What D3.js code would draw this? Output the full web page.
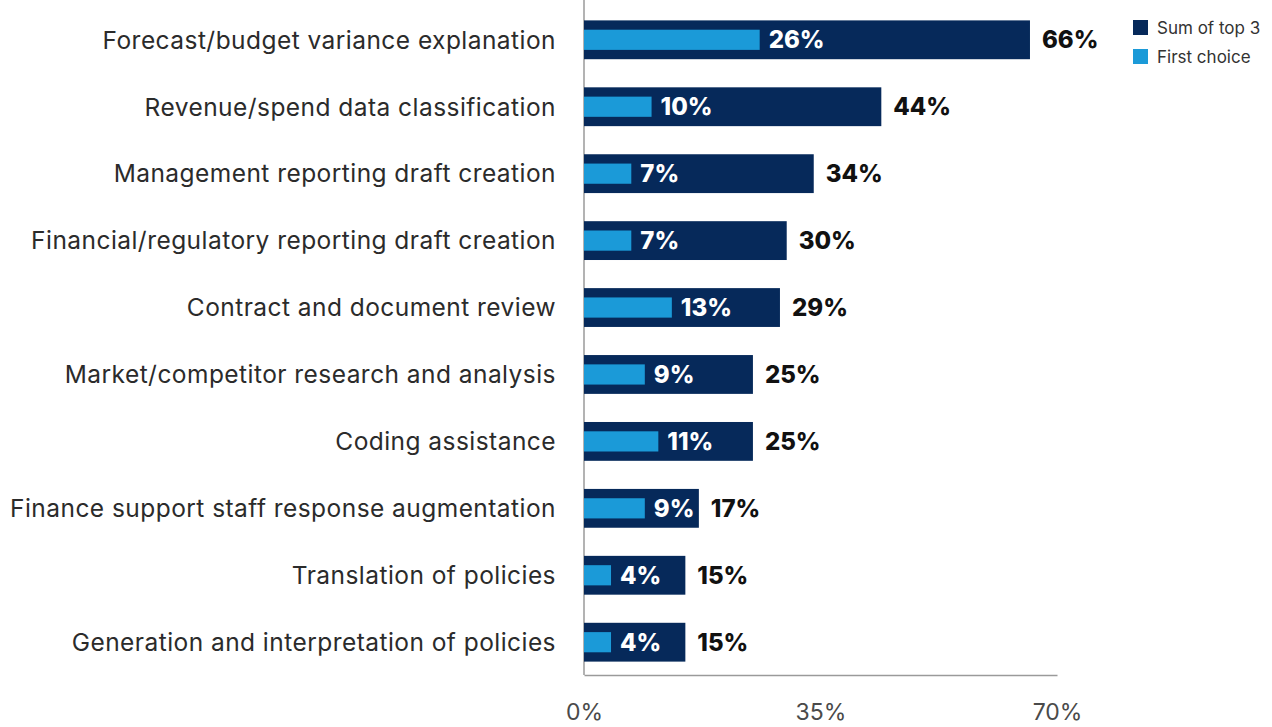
<!DOCTYPE html>
<html>
<head>
<meta charset="utf-8">
<script src="https://cdn.jsdelivr.net/npm/d3@7"></script>
<style>
  body { margin: 0; background: #fff; }
  svg { display: block; font-family: Inter, "Noto Sans", sans-serif; }
</style>
</head>
<body>
<svg id="chart" width="1272" height="727"></svg>
<script>
// values, in %
const categories = [
    "Forecast/budget variance explanation",
    "Revenue/spend data classification",
    "Management reporting draft creation",
    "Financial/regulatory reporting draft creation",
    "Contract and document review",
    "Market/competitor research and analysis",
    "Coding assistance",
    "Finance support staff response augmentation",
    "Translation of policies",
    "Generation and interpretation of policies"
];
const sumTop3 = [66, 44, 34, 30, 29, 25, 25, 17, 15, 15];
const firstChoice = [26, 10, 7, 7, 13, 9, 11, 9, 4, 4];
const tickValues = [0, 35, 70];
const seriesNames = ["Sum of top 3", "First choice"];

const navy = "#06295a", sky = "#1b9ad8";

const svg = d3.select("#chart");
const margin = { top: 7, left: 584, right: 215, bottom: 52 };
const W = 1272, H = 727;

const x = d3.scaleLinear().domain([0, 70]).range([margin.left, W - margin.right]);
const y = d3.scaleBand().domain(categories).range([margin.top, H - margin.bottom]).paddingInner(0.42).paddingOuter(0.2);

let rows = categories.map((c, i) => ({ cat: c, top3: sumTop3[i], first: firstChoice[i] }));

// axis lines
svg.append("line")
    .attr("x1", x(0)).attr("x2", x(0))
    .attr("y1", 0).attr("y2", H - margin.bottom)
    .attr("stroke", "#9a9a9a").attr("stroke-width", 1.5);

const xAxis = svg.append("g")
    .attr("transform", `translate(0,${H - margin.bottom})`)
    .call(d3.axisBottom(x).tickValues(tickValues).tickFormat(d => d + "%").tickSize(0).tickPadding(29));
xAxis.select(".domain").attr("stroke", "#9a9a9a").attr("stroke-width", 1.5);
xAxis.selectAll("text")
    .style("font-family", "Inter, sans-serif")
    .style("font-size", "23px")
    .style("fill", "#4a4a4a");

// category labels
svg.append("g").selectAll("text")
    .data(rows)
    .enter()
    .append("text")
    .attr("x", x(0) - 28)
    .attr("y", d => y(d.cat) + y.bandwidth() / 2)
    .attr("dy", "0.36em")
    .attr("text-anchor", "end")
    .style("font-size", "24.5px")
    .style("letter-spacing", "0.45px")
    .style("fill", "#2b2b2b")
    .text(d => d.cat);

const bars = svg.append("g").selectAll("g")
    .data(rows)
    .enter()
    .append("g");

bars.append("rect")
    .attr("x", x(0))
    .attr("y", d => y(d.cat))
    .attr("width", d => x(d.top3) - x(0))
    .attr("height", y.bandwidth())
    .style("fill", navy);

let innerH = y.bandwidth() * 0.52;
bars.append("rect")
    .attr("x", x(0))
    .attr("y", d => y(d.cat) + (y.bandwidth() - innerH) / 2)
    .attr("width", d => x(d.first) - x(0))
    .attr("height", innerH)
    .style("fill", sky);

let innerLabels = bars.append("text")
    .attr("x", d => x(d.first) + 9)
    .attr("y", d => y(d.cat) + y.bandwidth() / 2)
    .attr("dy", "0.36em")
    .style("font-size", "24px")
    .style("font-weight", 800)
    .style("fill", "#fff")
    .text(d => d.first + "%");

// outer label sits past the bar, or past the inner label when that runs long
bars.append("text")
    .attr("x", function (d, i) {
        let innerEnd = x(d.first) + 9 + innerLabels.nodes()[i].getComputedTextLength();
        return Math.max(x(d.top3) + 12, innerEnd + 13);
    })
    .attr("y", d => y(d.cat) + y.bandwidth() / 2)
    .attr("dy", "0.36em")
    .style("font-size", "24px")
    .style("font-weight", 800)
    .style("fill", "#111")
    .text(d => d.top3 + "%");

// legend
const legend = svg.append("g").selectAll("g")
    .data(seriesNames)
    .enter()
    .append("g")
    .attr("transform", (d, i) => `translate(1133,${20 + i * 29})`);
legend.append("rect")
    .attr("width", 15).attr("height", 15)
    .style("fill", (d, i) => i === 0 ? navy : sky);
legend.append("text")
    .attr("x", 24).attr("y", 7.5).attr("dy", "0.36em")
    .style("font-size", "17px")
    .style("fill", "#333")
    .text(d => d);
</script>
</body>
</html>
